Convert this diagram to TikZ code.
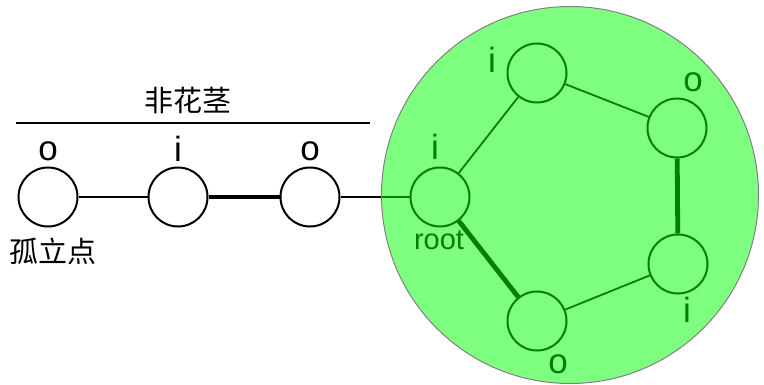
\documentclass[tikz,border=0pt]{standalone}
\usepackage{fontspec}
\setmainfont{Liberation Sans}
\newfontfamily\cjk{Noto Sans CJK SC}
\usetikzlibrary{positioning}
\definecolor{blobgreen}{RGB}{0,255,0}

\begin{document}
\begin{tikzpicture}[x=1pt, y=-1pt,
		vert/.style={circle, draw, fill=white, line width=2pt, minimum size=59pt, inner sep=0pt},
		lbl/.style={inner sep=0pt, font=\fontsize{35}{36}\selectfont},
		zh/.style={inner sep=0pt, font=\cjk\fontsize{29}{32}\selectfont},
		thin/.style={line width=1.8pt},
		bold/.style={line width=4.8pt}]
	\useasboundingbox (0,0) rectangle (764,385);
	\node[vert] (iso) at (48,197) {};
	\node[vert] (ni) at (178,197) {};
	\node[vert] (no) at (310,197) {};
	\node[vert] (root) at (440,197) {};
	\node[vert] (ti) at (537,73) {};
	\node[vert] (ro) at (677,128) {};
	\node[vert] (ri) at (678,264) {};
	\node[vert] (bo) at (537,321) {};
	
	\draw[thin] (iso) -- (ni);
	\draw[bold] (ni) -- (no);
	\draw[thin] (no) -- (root);
	\draw[thin] (root) -- (ti);
	\draw[thin] (ti) -- (ro);
	\draw[bold] (ro) -- (ri);
	\draw[thin] (ri) -- (bo);
	\draw[bold] (bo) -- (root);
	
	\node[lbl, above=5pt of iso] {o};
	\node[lbl, above=5pt of ni] {i};
	\node[lbl, above=5pt of no] {o};
	\node[lbl, anchor=base] at (435,160) {i};
	\node[lbl, anchor=base] at (492,73) {i};
	\node[lbl, anchor=base] at (693,92) {o};
	\node[lbl, anchor=base] at (687,323) {i};
	\node[lbl, anchor=base] at (558,373) {o};
	\node[inner sep=0pt, font=\fontsize{29}{32}\selectfont, anchor=base] at (439,250) {root};
	
	\node[zh] (stem) at (188,100) {非花茎};
	\coordinate (bl) at (16,123);
	\coordinate (br) at (370,123);
	\draw[thin] (bl) -- (br);
	\node[zh] (isolbl) at (53,251) {孤立点};
	
	\node[circle, draw=gray, line width=1pt, fill=blobgreen, fill opacity=0.5, minimum size=377pt] (blob) at (570,195) {};
\end{tikzpicture}
\end{document}
